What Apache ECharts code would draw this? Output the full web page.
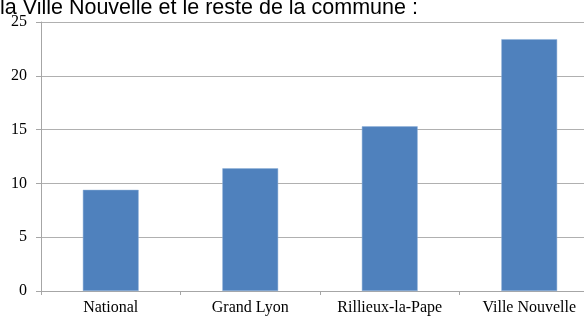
<!DOCTYPE html>
<html>
<head>
	<meta charset="utf-8">
	<script src="https://cdn.jsdelivr.net/npm/echarts@6/dist/echarts.min.js"></script>
	<style>
	   html,body{margin:0;padding:0;background:#fff;}
	   #chart{width:584px;height:317px;}
	</style>
</head>
<body>
	<div id="chart"></div>
	<script type="text/javascript">
	    var categories = ['National', 'Grand Lyon', 'Rillieux-la-Pape', 'Ville Nouvelle'];
	    var values = [9.4, 11.4, 15.3, 23.4];
	    var headText = 'la Ville Nouvelle et le reste de la commune :';

	    var myChart = echarts.init(document.getElementById('chart'));
	    var option = {
	        animation: false,
	        // the plot runs past the right edge of the picture (cropped)
	        grid: { left: 41, width: 558, top: 22, bottom: 26, outerBoundsMode: 'none' },
	        graphic: [{
	            type: 'text',
	            left: 0,
	            top: -3,
	            style: { text: headText, font: '21.5px "Liberation Sans", Arial', fill: '#000' }
	        }],
	        xAxis: {
	            type: 'category',
	            data: categories,
	            axisLine: { lineStyle: { color: '#a6a6a6' } },
	            axisTick: { show: true, length: 4, lineStyle: { color: '#a6a6a6' } },
	            axisLabel: { color: '#000', fontFamily: 'Liberation Serif', fontSize: 16, margin: 9, interval: 0, hideOverlap: false }
	        },
	        yAxis: {
	            type: 'value',
	            min: 0, max: 25, interval: 5,
	            axisLine: { show: true, lineStyle: { color: '#a6a6a6' } },
	            axisTick: { show: true, length: 5, lineStyle: { color: '#a6a6a6' } },
	            splitLine: { lineStyle: { color: '#b0b0b0' } },
	            axisLabel: { color: '#000', fontFamily: 'Liberation Serif', fontSize: 16, margin: 14 }
	        },
	        series: [{
	            type: 'bar',
	            data: values,
	            barWidth: '40%',
	            itemStyle: { color: '#4f81bd', borderColor: '#8fb0d8', borderWidth: 0.5 }
	        }]
	    };
	    myChart.setOption(option);
	</script>
</body>
</html>
